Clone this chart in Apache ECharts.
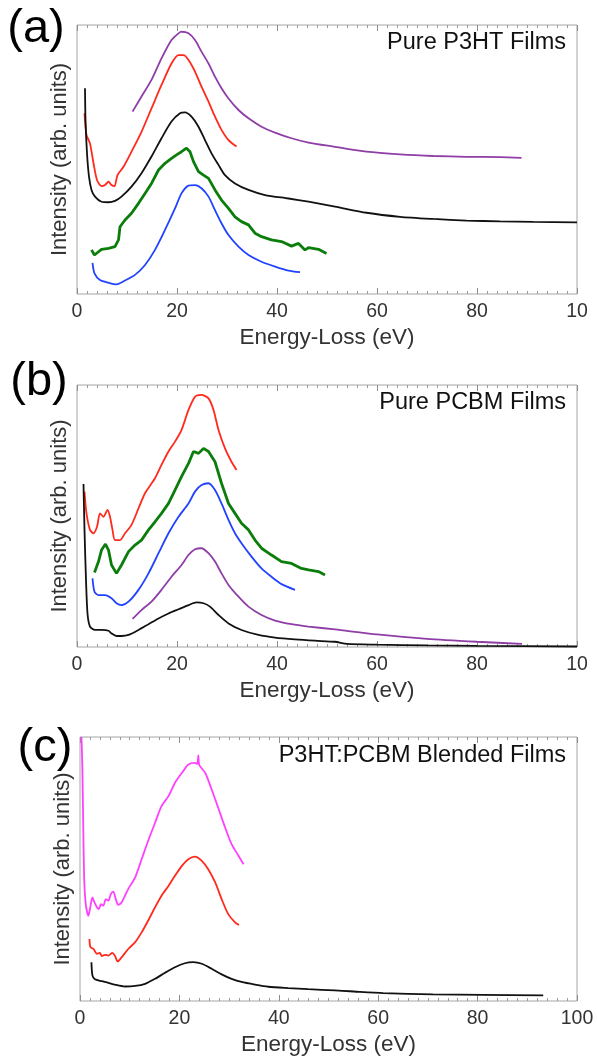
<!DOCTYPE html>
<html>
<head>
<meta charset="utf-8">
<script src="https://cdn.jsdelivr.net/npm/echarts@6/dist/echarts.min.js"></script>
<style>
html,body{margin:0;padding:0;background:#fff}
#chart{width:597px;height:1057px}
</style>
</head>
<body>
<div id="chart"></div>
<script>
// energy-loss (eV) vs intensity (arb. units, 0-100 = frame height)

// (a) pure P3HT films
var aPurple = [[11.1,67.8],[12.9,73.4],[14.9,79.6],[16.9,87.6],[18.9,94.4],[20.3,96.9],[20.9,97.5],[22.3,96.9],[23.6,94.4],[24.9,90.1],[26.3,85.7],[27.6,80.8],[28.9,76.5],[30.3,72.7],[32.3,68.4],[34.3,65.3],[36.9,62.2],[39.6,60.0],[42.9,57.9],[46.3,56.3],[51.3,54.8],[57.9,52.9],[64.6,51.9],[71.3,51.3],[77.9,51.0],[84.6,50.9],[88.9,50.6]];
var aRed = [[1.5,67.2],[1.9,59.1],[2.6,56.0],[3.3,48.6],[4.0,42.4],[4.9,40.1],[5.6,40.5],[6.3,41.8],[6.9,40.5],[7.5,40.1],[8.1,44.2],[9.3,47.3],[10.9,52.9],[12.9,60.3],[14.9,69.0],[16.9,77.7],[18.9,85.7],[20.3,88.8],[21.3,88.8],[22.3,87.0],[23.6,82.7],[24.9,77.1],[26.3,71.5],[27.6,65.9],[28.9,61.0],[30.3,57.2],[31.9,54.8]];
var aBlack = [[1.6,76.5],[1.7,64.7],[2.0,52.3],[2.4,43.6],[2.9,38.7],[3.6,36.2],[4.9,34.3],[6.3,34.1],[7.6,34.6],[8.9,36.2],[10.9,39.9],[12.9,44.9],[14.9,51.1],[16.9,57.9],[18.9,64.1],[20.6,67.2],[21.6,67.5],[22.9,65.9],[24.3,62.2],[25.6,57.2],[26.9,52.3],[28.3,48.0],[29.6,44.2],[31.6,41.1],[34.3,38.7],[37.6,36.8],[42.3,35.5],[46.3,34.3],[51.6,32.5],[57.9,30.2],[64.6,28.7],[71.3,27.9],[77.9,27.3],[84.6,27.0],[91.3,26.8],[100,26.6]];
var aGreen = [[2.9,16.4],[3.5,14.5],[4.3,15.7],[4.9,16.6],[6.3,17.0],[7.6,17.6],[8.3,20.1],[8.6,25.0],[9.6,27.5],[10.9,30.0],[12.3,33.7],[13.6,37.4],[14.9,41.1],[16.3,46.1],[17.6,48.6],[18.9,50.4],[19.9,51.7],[20.9,52.9],[21.9,54.2],[22.6,52.9],[23.3,49.2],[24.3,45.5],[25.3,44.2],[26.3,43.0],[27.6,38.7],[28.9,34.9],[30.3,31.8],[31.6,28.7],[32.9,26.9],[34.3,25.7],[35.6,22.6],[36.9,21.3],[38.9,20.1],[40.9,19.5],[42.9,17.8],[44.3,18.8],[45.6,16.4],[46.3,17.2],[48.3,16.6],[49.9,15.1]];
var aBlue = [[3.1,11.6],[3.5,7.7],[4.6,5.2],[6.3,4.2],[7.9,3.6],[9.6,5.0],[11.6,7.1],[13.6,10.8],[15.6,16.4],[17.6,23.8],[19.6,31.8],[20.9,37.4],[22.3,40.3],[23.6,40.5],[24.9,39.3],[26.3,36.2],[27.6,31.2],[28.9,26.3],[30.3,21.9],[32.3,17.6],[34.3,14.5],[36.9,12.0],[39.6,10.2],[42.3,8.7],[44.6,8.1]];

// (b) pure PCBM films
var bRed = [[1.5,59.3],[1.9,51.0],[2.6,44.7],[3.3,43.4],[4.0,45.9],[4.6,51.0],[5.3,49.7],[6.1,52.3],[6.6,49.7],[7.1,44.7],[7.6,40.8],[8.6,40.8],[9.6,43.4],[10.9,46.6],[12.3,52.9],[13.6,58.7],[15.6,64.4],[16.9,69.5],[18.3,74.6],[19.6,78.4],[20.9,82.8],[22.3,90.5],[23.6,95.5],[24.9,96.2],[26.3,94.9],[27.3,90.5],[28.3,82.8],[29.6,75.8],[30.9,70.7],[31.9,67.6]];
var bGreen = [[3.5,28.4],[4.3,32.6],[4.9,37.0],[5.7,39.3],[6.3,37.0],[6.9,31.3],[7.9,28.1],[8.9,31.3],[10.3,36.4],[11.6,38.9],[12.9,40.8],[14.3,44.7],[15.6,47.8],[16.9,51.0],[18.3,54.8],[19.6,59.9],[20.9,65.0],[22.3,70.1],[23.3,74.6],[24.3,73.9],[25.3,75.8],[26.3,74.6],[27.6,70.7],[28.9,62.5],[30.3,54.8],[31.6,51.0],[32.9,47.2],[34.3,44.7],[35.6,40.8],[36.9,37.7],[38.9,35.1],[40.9,32.6],[42.9,31.9],[44.9,30.0],[46.3,29.4],[48.3,28.8],[49.6,27.5]];
var bBlue = [[3.1,26.2],[3.5,21.1],[4.3,19.8],[5.6,19.8],[6.9,18.6],[7.9,16.7],[8.9,16.0],[10.3,17.3],[12.3,21.8],[14.3,28.1],[16.3,35.8],[18.3,43.4],[20.3,49.7],[22.3,54.8],[23.6,59.3],[24.9,61.8],[26.3,62.5],[27.6,59.9],[28.9,54.8],[30.3,48.5],[31.6,43.4],[32.9,39.6],[34.9,34.5],[36.9,30.0],[38.9,26.8],[40.9,24.0],[43.6,21.8]];
var bPurple = [[11.1,10.7],[12.9,14.1],[14.9,17.3],[16.9,21.8],[18.9,26.8],[20.9,31.3],[22.3,35.1],[23.6,37.3],[24.9,37.7],[26.3,35.8],[27.6,32.6],[28.9,28.1],[30.3,23.7],[32.3,19.2],[34.3,15.4],[36.9,12.2],[39.6,10.1],[42.9,8.7],[46.3,7.8],[51.6,6.7],[60,4.8],[70,3.1],[80,2.0],[89,1.2]];
var bBlack = [[1.3,62.2],[1.5,44.7],[1.8,25.6],[2.1,12.8],[2.6,7.8],[3.6,6.5],[4.9,6.5],[6.3,6.2],[6.9,5.2],[7.9,4.2],[8.9,4.2],[10.3,4.6],[12.3,6.5],[14.3,8.7],[16.3,10.9],[18.3,12.8],[20.3,14.4],[22.3,16.0],[23.9,17.0],[25.3,16.7],[26.6,15.4],[28.3,12.2],[30.3,9.0],[32.9,6.5],[36.3,4.6],[39.6,3.6],[43.6,2.9],[47.6,2.4],[51.6,2.0],[54,1.2],[60,0.9],[70,0.6],[80,0.4],[100,0.2]];

// (c) P3HT:PCBM blended films
var cMagenta = [[0.3,100],[0.47,88.9],[0.67,63.8],[0.87,44.9],[1.2,36.1],[1.7,32.3],[2.0,34.8],[2.5,39.2],[2.9,37.4],[3.4,35.5],[3.8,34.8],[4.2,36.7],[4.7,36.1],[5.2,38.6],[5.7,38.0],[6.2,40.5],[6.7,41.4],[7.2,38.6],[7.7,36.4],[8.4,37.4],[9.7,42.4],[11.1,46.8],[12.4,53.7],[13.7,60.6],[15.1,67.5],[16.4,73.8],[17.8,77.6],[19.1,82.6],[20.5,86.4],[21.8,89.6],[23.1,90.2],[23.6,89.8],[23.8,93.0],[24.0,89.4],[25.2,86.4],[26.5,80.1],[27.8,73.2],[29.2,65.7],[30.5,59.4],[31.9,55.0],[32.9,51.8]];
var cRed = [[1.9,23.5],[2.1,20.4],[2.7,19.7],[3.4,17.9],[4.0,18.2],[4.4,17.0],[5.0,17.5],[5.7,17.2],[6.5,18.2],[7.0,17.2],[7.6,15.0],[8.4,16.6],[9.7,19.7],[11.1,22.3],[12.4,26.0],[13.7,30.4],[15.1,35.5],[16.4,39.9],[17.8,43.6],[19.1,47.4],[20.5,51.2],[21.8,53.7],[23.1,54.7],[24.5,53.1],[25.8,49.9],[27.2,44.9],[28.5,38.6],[29.8,33.0],[31.2,29.8],[32.0,28.8]];
var cBlack = [[2.3,14.7],[2.5,9.7],[3.0,8.2],[4.4,7.5],[5.7,6.9],[7.0,6.2],[9.0,5.5],[11.1,5.7],[13.1,6.5],[15.1,8.4],[17.1,10.7],[19.1,12.8],[21.1,14.3],[22.8,14.7],[24.5,14.1],[26.5,12.2],[28.5,10.1],[30.5,8.4],[32.5,7.2],[35.2,6.2],[37.9,5.4],[41.9,4.9],[45.9,4.5],[51.3,4.0],[54.3,3.7],[61.0,3.0],[71.0,2.5],[81.1,2.3],[93.2,2.1]];

var tickLabelsAB = ['0','20','40','60','80','10'];
var tickLabelsC = ['0','20','40','60','80','100'];
var panelLetters = ['(a)','(b)','(c)'];
var panelTitles = ['Pure P3HT Films','Pure PCBM Films','P3HT:PCBM Blended Films'];

var FONT = 'Liberation Sans, Arial, sans-serif';
var PURPLE = '#8e3ea6', RED = '#ff2a1c', BLACK = '#111', GREEN = '#0b7d0b', BLUE = '#2143ff', MAGENTA = '#ff40ff';

var grids = [
    {left:77, top:25, width:500, height:269},
    {left:77, top:385, width:500, height:262},
    {left:80, top:737, width:497, height:265}
];
var letterPos = [[36,29],[39,382],[45,748]];
var titlePos = [[566,43],[566,403],[566,756]];

var myChart = echarts.init(document.getElementById('chart'));

var xAxes = [], yAxes = [], graphics = [];
grids.forEach(function(g, i) {
    g.show = true;
    g.borderColor = '#a6a6a6';
    g.borderWidth = 1;
    g.backgroundColor = 'transparent';
    var labels = i < 2 ? tickLabelsAB : tickLabelsC;
    xAxes.push({
        gridIndex:i, type:'value', min:0, max:100, interval:20, position:'bottom',
        axisLine:{show:false}, splitLine:{show:false},
        axisTick:{show:true, inside:true, length:6, lineStyle:{color:'#8c8c8c', width:1}},
        minorTick:{show:true, splitNumber:10, length:3, lineStyle:{color:'#9a9a9a', width:1}},
        axisLabel:{fontSize:19.5, color:'#333', fontFamily:FONT, margin:8,
            formatter:function(v){ return labels[Math.round(v/20)]; }},
        name:'Energy-Loss (eV)', nameLocation:'middle', nameGap:32,
        nameTextStyle:{fontSize:22.5, color:'#333', fontFamily:FONT}
    });
    yAxes.push({
        gridIndex:i, type:'value', min:0, max:100,
        axisLabel:{show:false}, axisTick:{show:false}, axisLine:{show:false}, splitLine:{show:false},
        name:'Intensity (arb. units)', nameLocation:'middle', nameGap:6, nameRotate:90,
        nameTextStyle:{fontSize:22, color:'#333', fontFamily:FONT}
    });
    graphics.push({type:'text', x:letterPos[i][0], y:letterPos[i][1],
        style:{text:panelLetters[i], font:'47px ' + FONT, fill:'#000', align:'center', verticalAlign:'middle'}});
    graphics.push({type:'text', x:titlePos[i][0], y:titlePos[i][1],
        style:{text:panelTitles[i], font:'23.5px ' + FONT, fill:'#111', align:'right', verticalAlign:'middle'}});
});
// top frame ticks
grids.forEach(function(g, i) {
    xAxes.push({
        gridIndex:i, type:'value', min:0, max:100, interval:20, position:'top',
        axisLabel:{show:false}, axisLine:{show:false}, splitLine:{show:false},
        axisTick:{show:true, inside:true, length:6, lineStyle:{color:'#8c8c8c', width:1}},
        minorTick:{show:true, splitNumber:10, length:3, lineStyle:{color:'#9a9a9a', width:1}}
    });
});

function line(data, color, panel, width, smooth) {
    return {
        type:'line', data:data, xAxisIndex:panel, yAxisIndex:panel,
        showSymbol:false, smooth:smooth === undefined ? 0.25 : smooth, clip:true, silent:true,
        lineStyle:{color:color, width:width || 1.8}
    };
}

var series = [
    line(aPurple, PURPLE, 0), line(aRed, RED, 0), line(aBlack, BLACK, 0),
    line(aGreen, GREEN, 0, 2.8, false), line(aBlue, BLUE, 0),
    line(bRed, RED, 1), line(bGreen, GREEN, 1, 2.8, false), line(bBlue, BLUE, 1),
    line(bPurple, PURPLE, 1), line(bBlack, BLACK, 1),
    line(cMagenta, MAGENTA, 2), line(cRed, RED, 2), line(cBlack, BLACK, 2)
];

myChart.setOption({
    animation:false,
    backgroundColor:'#fff',
    grid:grids,
    xAxis:xAxes,
    yAxis:yAxes,
    graphic:graphics,
    series:series
});
</script>
</body>
</html>
